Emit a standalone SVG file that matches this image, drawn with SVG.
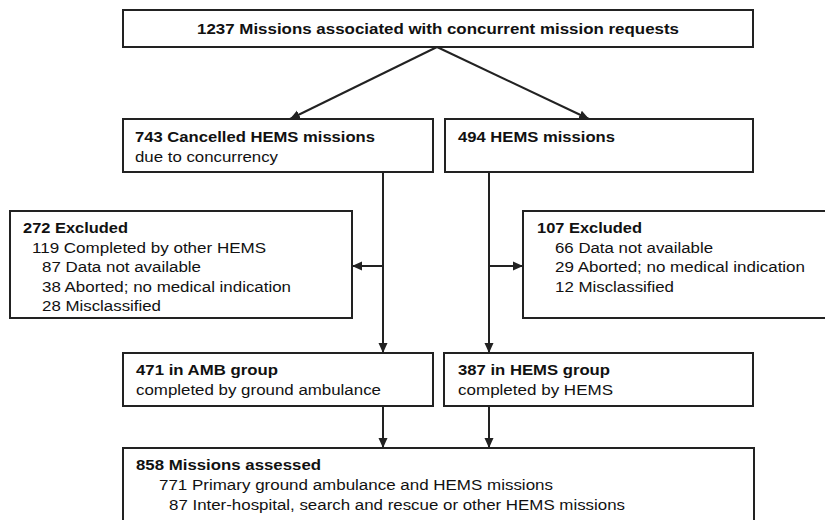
<svg xmlns="http://www.w3.org/2000/svg" width="825" height="520" viewBox="0 0 825 520">
<defs>
<style>
.box{fill:#fff;stroke:#222;stroke-width:2}
.ln{fill:none;stroke:#222;stroke-width:2}
text{font-family:"Liberation Sans",Arial,sans-serif;font-size:15.5px;fill:#111}
.b{font-weight:bold}
</style>
<marker id="ah" markerUnits="userSpaceOnUse" markerWidth="10" markerHeight="10" viewBox="0 0 10 10" refX="10" refY="5" orient="auto">
<path d="M0,0.5 L10,5 L0,9.5 z" fill="#222"/>
</marker>
</defs>
<rect width="825" height="520" fill="#fff"/>
<g id="connectors">
<line class="ln" x1="437" y1="47" x2="290" y2="119" marker-end="url(#ah)"/>
<line class="ln" x1="437" y1="47" x2="589" y2="119" marker-end="url(#ah)"/>
<line class="ln" x1="383" y1="172" x2="383" y2="353" marker-end="url(#ah)"/>
<line class="ln" x1="489" y1="172" x2="489" y2="353" marker-end="url(#ah)"/>
<line class="ln" x1="383" y1="266" x2="352" y2="266" marker-end="url(#ah)"/>
<line class="ln" x1="489" y1="266" x2="523" y2="266" marker-end="url(#ah)"/>
<line class="ln" x1="383" y1="406" x2="383" y2="448" marker-end="url(#ah)"/>
<line class="ln" x1="489" y1="406" x2="489" y2="448" marker-end="url(#ah)"/>
</g>
<g id="top">
<rect class="box" x="123" y="10" width="630" height="37"/>
<text class="b" x="197" y="34" textLength="482" lengthAdjust="spacingAndGlyphs">1237 Missions associated with concurrent mission requests</text>
</g>
<g id="cancelled">
<rect class="box" x="123" y="119" width="310" height="53"/>
<text class="b" x="135" y="142" textLength="240" lengthAdjust="spacingAndGlyphs">743 Cancelled HEMS missions</text>
<text x="135" y="162" textLength="143" lengthAdjust="spacingAndGlyphs">due to concurrency</text>
</g>
<g id="hems">
<rect class="box" x="445" y="119" width="308" height="53"/>
<text class="b" x="458" y="142" textLength="157" lengthAdjust="spacingAndGlyphs">494 HEMS missions</text>
</g>
<g id="excluded-left">
<rect class="box" x="10" y="211" width="342" height="107"/>
<text class="b" x="23" y="233" textLength="105" lengthAdjust="spacingAndGlyphs">272 Excluded</text>
<text x="32" y="252.5" textLength="234" lengthAdjust="spacingAndGlyphs">119 Completed by other HEMS</text>
<text x="42" y="272" textLength="159" lengthAdjust="spacingAndGlyphs">87 Data not available</text>
<text x="42" y="291.5" textLength="249" lengthAdjust="spacingAndGlyphs">38 Aborted; no medical indication</text>
<text x="42" y="311" textLength="119" lengthAdjust="spacingAndGlyphs">28 Misclassified</text>
</g>
<g id="excluded-right">
<rect class="box" x="523" y="211" width="312" height="107"/>
<text class="b" x="537" y="233" textLength="105" lengthAdjust="spacingAndGlyphs">107 Excluded</text>
<text x="555" y="252.5" textLength="158" lengthAdjust="spacingAndGlyphs">66 Data not available</text>
<text x="555" y="272" textLength="250" lengthAdjust="spacingAndGlyphs">29 Aborted; no medical indication</text>
<text x="555" y="291.5" textLength="119" lengthAdjust="spacingAndGlyphs">12 Misclassified</text>
</g>
<g id="amb">
<rect class="box" x="123" y="353" width="310" height="53"/>
<text class="b" x="136" y="375" textLength="142" lengthAdjust="spacingAndGlyphs">471 in AMB group</text>
<text x="136" y="394.5" textLength="245" lengthAdjust="spacingAndGlyphs">completed by ground ambulance</text>
</g>
<g id="hems-group">
<rect class="box" x="444" y="353" width="309" height="53"/>
<text class="b" x="458" y="375" textLength="152" lengthAdjust="spacingAndGlyphs">387 in HEMS group</text>
<text x="458" y="394.5" textLength="155" lengthAdjust="spacingAndGlyphs">completed by HEMS</text>
</g>
<g id="assessed">
<rect class="box" x="123" y="448" width="631" height="90"/>
<text class="b" x="136" y="470" textLength="185" lengthAdjust="spacingAndGlyphs">858 Missions assessed</text>
<text x="159" y="490" textLength="394" lengthAdjust="spacingAndGlyphs">771 Primary ground ambulance and HEMS missions</text>
<text x="169" y="509.5" textLength="456" lengthAdjust="spacingAndGlyphs">87 Inter-hospital, search and rescue or other HEMS missions</text>
</g>
</svg>
